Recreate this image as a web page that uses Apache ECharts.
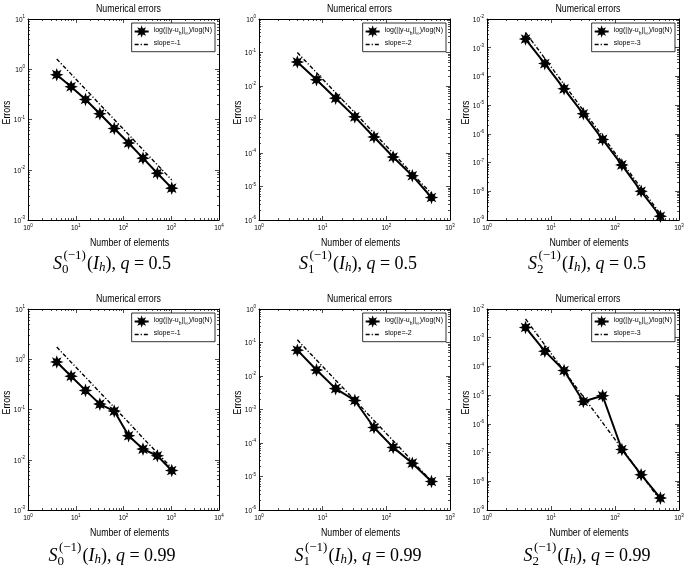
<!DOCTYPE html>
<html><head><meta charset="utf-8">
<script src="https://cdn.jsdelivr.net/npm/echarts@6/dist/echarts.min.js"></script>
<style>html,body{margin:0;padding:0;background:#fff}#c{width:685px;height:573px}</style>
</head><body><div id="c"></div>
<script>
// ---------------- data ----------------
const elementsA = [4, 8, 16, 32, 64, 128, 256, 512, 1024];
const elementsB = [4, 8, 16, 32, 64, 128, 256, 512];

const err_S0_q05 = [0.78, 0.45, 0.25, 0.13, 0.066, 0.034, 0.017, 0.0085, 0.0043];
const ref_S0_q05 = [1.6, 0.8, 0.4, 0.2, 0.1, 0.05, 0.025, 0.0125, 0.00625];
const err_S1_q05 = [0.052, 0.0154, 0.0043, 0.0012, 3.0e-4, 7.6e-5, 2.1e-5, 4.7e-6];
const ref_S1_q05 = [0.1, 0.025, 0.00625, 0.0016, 3.9e-4, 9.8e-5, 2.4e-5, 6.1e-6];
const err_S2_q05 = [2.0e-3, 2.8e-4, 3.7e-5, 5.0e-6, 6.4e-7, 8.3e-8, 1.0e-8, 1.35e-9];
const ref_S2_q05 = [3.4e-3, 4.25e-4, 5.3e-5, 6.6e-6, 8.3e-7, 1.04e-7, 1.3e-8, 1.62e-9];

const err_S0_q099 = [0.88, 0.46, 0.24, 0.128, 0.093, 0.030, 0.0163, 0.012, 0.0061];
const ref_S0_q099 = [1.75, 0.875, 0.44, 0.22, 0.11, 0.055, 0.027, 0.0137, 0.0068];
const err_S1_q099 = [0.059, 0.0151, 0.0042, 0.00186, 2.9e-4, 7.4e-5, 2.5e-5, 7.1e-6];
const ref_S1_q099 = [0.12, 0.03, 0.0075, 0.0019, 4.7e-4, 1.17e-4, 2.9e-5, 7.3e-6];
const err_S2_q099 = [2.27e-3, 3.4e-4, 7.2e-5, 6.0e-6, 9.5e-6, 1.28e-7, 1.7e-8, 2.6e-9];
const ref_S2_q099 = [4.5e-3, 5.6e-4, 7.0e-5, 8.8e-6, 1.1e-6, 1.37e-7, 1.72e-8, 2.15e-9];

const xRanges = [[1, 1e4], [1, 1e3], [1, 1e3]];
const yRanges = [[1e-3, 1e1], [1e-6, 1e0], [1e-9, 1e-2]];
const slopeLabels = ['slope=-1', 'slope=-2', 'slope=-3'];
const subIndex = ['0', '1', '2'];
const qValues = ['0.5', '0.99'];
const titleText = 'Numerical errors';
const xName = 'Number of elements';
const yName = 'Errors';

const panels = [
  {n: elementsA, err: err_S0_q05, ref: ref_S0_q05},
  {n: elementsB, err: err_S1_q05, ref: ref_S1_q05},
  {n: elementsB, err: err_S2_q05, ref: ref_S2_q05},
  {n: elementsA, err: err_S0_q099, ref: ref_S0_q099},
  {n: elementsB, err: err_S1_q099, ref: ref_S1_q099},
  {n: elementsB, err: err_S2_q099, ref: ref_S2_q099}
];

// ---------------- layout ----------------
const colLeft = [28, 259, 487];
const colWidth = [191, 191, 192];
const rowTop = [19, 309];
const GH = 201;
const captionCx = [112, 358, 587];
const captionCy = [264, 556];
const W = 685;
const NARROW = 0.8;

const SANS = '"Liberation Sans", Arial, sans-serif';
const SERIF = '"Liberation Serif", "DejaVu Serif", serif';

function majorVals(r) {
  const a = Math.round(Math.log10(r[0])), b = Math.round(Math.log10(r[1]));
  const out = []; for (let e = a; e <= b; e++) out.push(Math.pow(10, e)); return out;
}
function minorVals(r) {
  const a = Math.round(Math.log10(r[0])), b = Math.round(Math.log10(r[1]));
  const out = [];
  for (let e = a; e < b; e++) for (let k = 2; k <= 9; k++) out.push(k * Math.pow(10, e));
  return out;
}
function expLabel(v) {
  const e = Math.round(Math.log10(v));
  return '{b|10}{e|' + e + '}';
}
const tickRich = {
  b: {fontSize: 6.5, lineHeight: 9, verticalAlign: 'bottom', fontFamily: SANS, color: '#000'},
  e: {fontSize: 4.5, lineHeight: 5, verticalAlign: 'top', fontFamily: SANS, color: '#000'}
};

function starPath() {
  let d = '';
  for (let k = 0; k < 16; k++) {
    const r = k % 2 ? 5 : 10;
    const a = Math.PI * k / 8 - Math.PI / 2;
    d += (k ? 'L' : 'M') + (10 + r * Math.cos(a)).toFixed(2) + ' ' + (10 + r * Math.sin(a)).toFixed(2) + ' ';
  }
  return 'path://' + d + 'Z';
}
const STAR = starPath();

const mctx = document.createElement('canvas').getContext('2d');
function tw(t, f) { mctx.font = f; return mctx.measureText(t).width; }

function caption(cx, cy, sub, q, size) {
  const small = Math.round(size * 0.7);
  const fI = `italic ${size}px ${SERIF}`, fN = `${size}px ${SERIF}`;
  const fsN = `${small}px ${SERIF}`, fsI = `italic ${small}px ${SERIF}`;
  const items = [
    {t: 'S', f: fI, dy: 0},
    {stack: [{t: '(\u22121)', f: fsN, dy: -8, dx: 1.5}, {t: sub, f: fsN, dy: 6, dx: 0}]},
    {t: '(', f: fN, dy: 0, dx: 1},
    {t: 'I', f: fI, dy: 0},
    {t: 'h', f: fsI, dy: 4},
    {t: '), ', f: fN, dy: 0},
    {t: 'q', f: fI, dy: 0},
    {t: ' = ' + q, f: fN, dy: 0}
  ];
  let total = 0;
  items.forEach(it => {
    if (it.stack) it.w = Math.max(...it.stack.map(s => tw(s.t, s.f) + s.dx));
    else it.w = tw(it.t, it.f) + (it.dx || 0);
    total += it.w;
  });
  let x = cx - total / 2;
  const out = [];
  items.forEach(it => {
    const parts = it.stack ? it.stack : [it];
    parts.forEach(p => {
      out.push({type: 'text', x: x + (p.dx || 0), y: cy + p.dy, silent: true,
        style: {text: p.t, font: p.f, fill: '#000', align: 'left', verticalAlign: 'middle'}});
    });
    x += it.w;
  });
  return out;
}

const grids = [], xAxes = [], yAxes = [], series = [], legends = [], graphics = [];

panels.forEach((p, i) => {
  const col = i % 3, row = Math.floor(i / 3);
  const left = colLeft[col], top = rowTop[row], width = colWidth[col];
  const xr = xRanges[col], yr = yRanges[col];
  grids.push({left: left, top: top, width: width, height: GH, containLabel: false, outerBoundsMode: 'none'});

  const xBase = xAxes.length, yBase = yAxes.length;
  ['bottom', 'top'].forEach(pos => {
    ['major', 'minor'].forEach(kind => {
      const major = kind === 'major';
      xAxes.push({
        type: 'log', logBase: 10, gridIndex: i, position: pos, min: xr[0], max: xr[1],
        axisLine: {show: major, onZero: false, lineStyle: {color: '#000', width: 1}},
        axisTick: {show: true, inside: true, length: major ? 4 : 2,
          customValues: major ? majorVals(xr) : minorVals(xr), lineStyle: {color: '#000', width: 0.7}},
        axisLabel: {show: major && pos === 'bottom', margin: 3, formatter: expLabel, rich: tickRich,
          customValues: majorVals(xr), hideOverlap: false},
        splitLine: {show: false}, minorTick: {show: false}, silent: true
      });
    });
  });
  ['left', 'right'].forEach(pos => {
    ['major', 'minor'].forEach(kind => {
      const major = kind === 'major';
      yAxes.push({
        type: 'log', logBase: 10, gridIndex: i, position: pos, min: yr[0], max: yr[1],
        axisLine: {show: major, onZero: false, lineStyle: {color: '#000', width: 1}},
        axisTick: {show: true, inside: true, length: major ? 4 : 2,
          customValues: major ? majorVals(yr) : minorVals(yr), lineStyle: {color: '#000', width: 0.7}},
        axisLabel: {show: major && pos === 'left', margin: 3, formatter: expLabel, rich: tickRich,
          customValues: majorVals(yr), hideOverlap: false},
        splitLine: {show: false}, minorTick: {show: false}, silent: true
      });
    });
  });

  const errName = 'err' + i, refName = 'ref' + i;
  const dashDot = [4, 2, 1.2, 2];
  series.push({
    name: errName, type: 'line', xAxisIndex: xBase, yAxisIndex: yBase,
    data: p.n.map((v, k) => [v, p.err[k]]),
    symbol: STAR, symbolSize: 10, showSymbol: true,
    lineStyle: {color: '#000', width: 2},
    itemStyle: {color: '#000', borderColor: '#000', borderWidth: 1.2},
    z: 3, animation: false, silent: true
  });
  series.push({
    name: refName, type: 'line', xAxisIndex: xBase, yAxisIndex: yBase,
    data: p.n.map((v, k) => [v, p.ref[k]]),
    symbol: 'none',
    lineStyle: {color: '#000', width: 1.4, type: dashDot},
    itemStyle: {color: '#000'},
    z: 2, animation: false, silent: true
  });

  legends.push({
    data: [
      {name: errName},
      {name: refName, itemStyle: {opacity: 0, color: 'rgba(0,0,0,0)', borderWidth: 0},
        lineStyle: {type: dashDot, width: 1.4, color: '#000'}}
    ],
    orient: 'vertical',
    right: W - (left + width) + 4, top: top + 4,
    backgroundColor: '#fff', borderColor: '#000', borderWidth: 0.8, borderRadius: 0,
    padding: [4, 3, 4, 2], itemGap: 4, itemWidth: 14, itemHeight: 8,
    selectedMode: false,
    textStyle: {fontSize: 7, fontFamily: SANS, color: '#000', rich: {
      t: {fontSize: 7, fontFamily: SANS, lineHeight: 9, verticalAlign: 'top', color: '#000'},
      s: {fontSize: 5, fontFamily: SANS, lineHeight: 5, verticalAlign: 'bottom', color: '#000'}
    }},
    formatter: name => name.indexOf('err') === 0
      ? '{t|log(||y-u}{s|h}{t|||}{s|\u221e}{t|)/log(N)}'
      : '{t|' + slopeLabels[col] + '}'
  });

  // title
  graphics.push({type: 'text', x: left + width / 2 + 5, y: top - 10, scaleX: NARROW, silent: true,
    style: {text: titleText, font: `11px ${SANS}`, fill: '#000', align: 'center', verticalAlign: 'middle'}});
  // x axis name
  graphics.push({type: 'text', x: left + width / 2 + 6, y: top + GH + 23, scaleX: NARROW, silent: true,
    style: {text: xName, font: `11px ${SANS}`, fill: '#000', align: 'center', verticalAlign: 'middle'}});
  // y axis name
  graphics.push({type: 'text', x: left - 21, y: top + GH / 2 - 7, rotation: Math.PI / 2, scaleX: NARROW, silent: true,
    style: {text: yName, font: `11px ${SANS}`, fill: '#000', align: 'center', verticalAlign: 'middle'}});
  caption(captionCx[col], captionCy[row], subIndex[col], qValues[row], 18).forEach(g => graphics.push(g));
});

const chart = echarts.init(document.getElementById('c'), null, {renderer: 'canvas'});
chart.setOption({
  backgroundColor: '#fff',
  animation: false,
  grid: grids, xAxis: xAxes, yAxis: yAxes, series: series, legend: legends,
  graphic: graphics
});
</script></body></html>
